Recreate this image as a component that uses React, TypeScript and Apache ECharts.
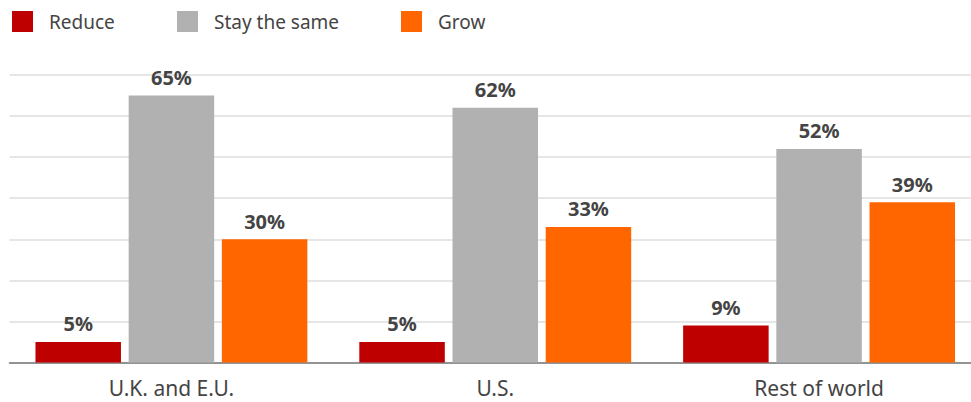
import React, { useEffect, useRef } from "react";
import * as echarts from "echarts";

const categories = ["U.K. and E.U.", "U.S.", "Rest of world"];
const seriesNames = ["Reduce", "Stay the same", "Grow"];
const reduceValues = [5, 5, 9];
const stayValues = [65, 62, 52];
const growValues = [30, 33, 39];
const colors = ["#bf0000", "#b1b1b1", "#ff6600"];
const legendLefts = [12, 177, 401];

export default function App() {
  const ref = useRef<HTMLDivElement>(null);
  useEffect(() => {
    document.body.style.margin = "0";
    const chart = echarts.init(ref.current!, null, { renderer: "svg" });
    const font = "'Noto Sans', sans-serif";
    const values = [reduceValues, stayValues, growValues];
    chart.setOption({
      animation: false,
      legend: seriesNames.map((name, i) => ({
        data: [name],
        left: legendLefts[i],
        top: 11,
        itemWidth: 21,
        itemHeight: 21,
        icon: "rect",
        itemGap: 0,
        padding: 0,
        textStyle: {
          fontFamily: font,
          fontSize: 19,
          color: "#444444",
          padding: [0, 0, 0, 11],
        },
      })),
      grid: { left: 9.5, right: 0, top: 75, bottom: 39.5 },
      xAxis: {
        type: "category",
        data: categories,
        axisTick: { show: false },
        axisLine: { lineStyle: { color: "#777777", width: 1.5 } },
        axisLabel: {
          fontFamily: font,
          fontSize: 21,
          color: "#444444",
          margin: 15,
        },
      },
      yAxis: {
        type: "value",
        min: 0,
        max: 70,
        interval: 10,
        axisLabel: { show: false },
        axisLine: { show: false },
        axisTick: { show: false },
        splitLine: { lineStyle: { color: "#dedede", width: 1.5 } },
      },
      series: seriesNames.map((name, i) => ({
        name,
        type: "bar",
        data: values[i],
        barWidth: 85.5,
        barGap: "9%",
        itemStyle: { color: colors[i] },
        label: {
          show: true,
          position: "top",
          distance: 8,
          formatter: "{c}%",
          fontFamily: font,
          fontSize: 20,
          fontWeight: "bold",
          color: "#444444",
        },
      })),
    });
    return () => chart.dispose();
  }, []);
  return (
    <div style={{ width: 971, height: 402, overflow: "hidden", position: "relative" }}>
      <div ref={ref} style={{ width: 981, height: 402 }} />
    </div>
  );
}
